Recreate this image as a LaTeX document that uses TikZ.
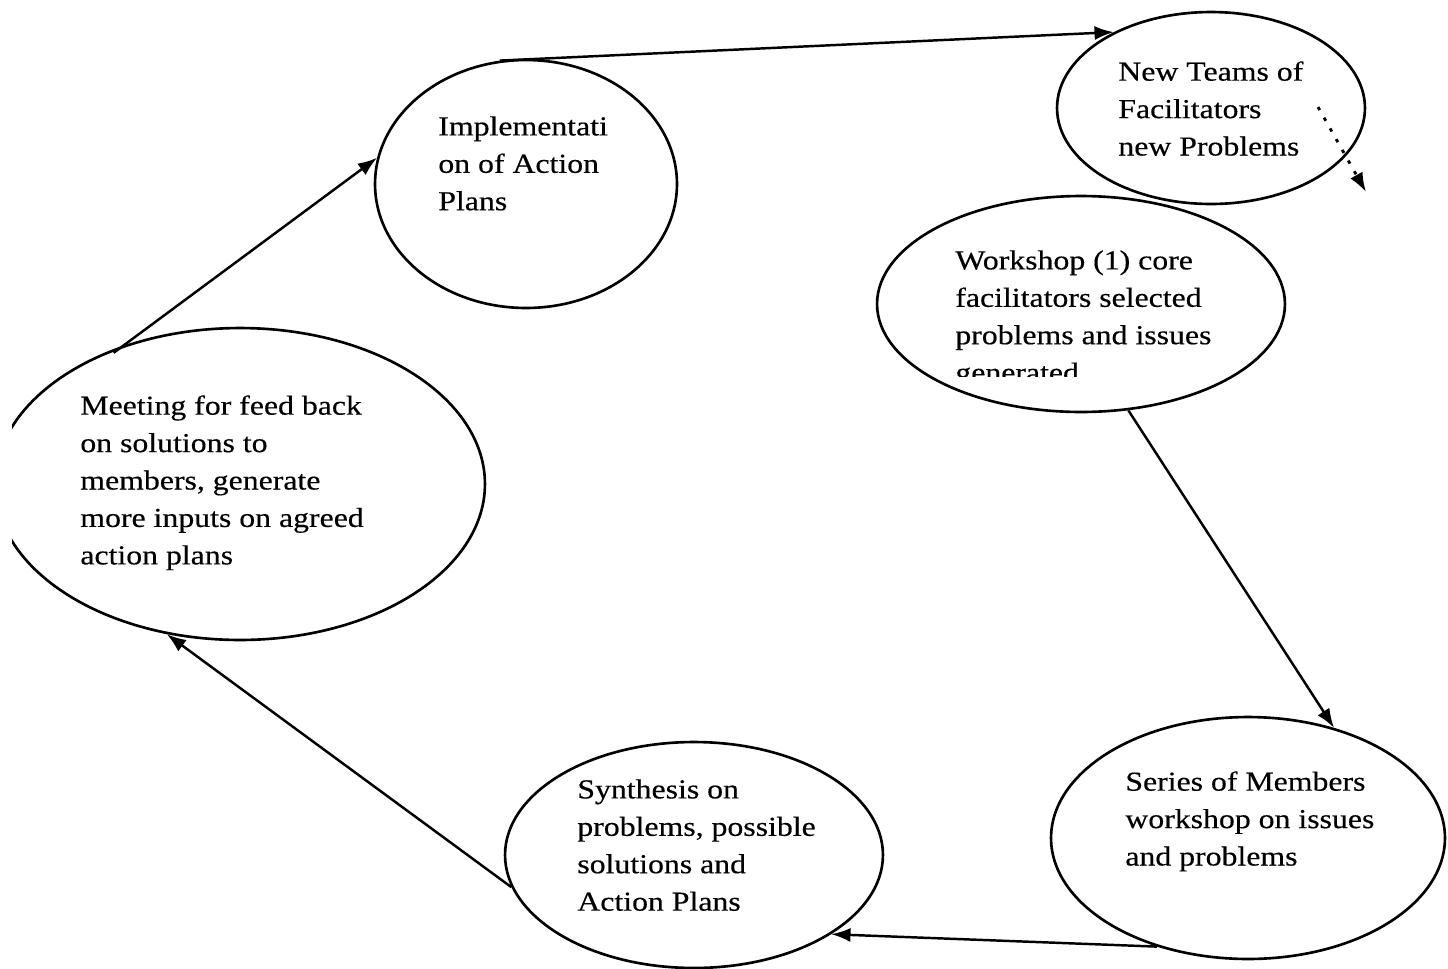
\documentclass[tikz,border=0pt]{standalone}
\usepackage{fontspec}
\setmainfont{Liberation Serif}[FakeStretch=1.16,FakeBold=0.4]
\usetikzlibrary{shapes.geometric,arrows.meta}
\tikzset{
  ell/.style={ellipse, draw, line width=1.5pt, inner sep=0pt},
  txt/.style={anchor=north west, align=left, inner sep=0pt, font=\fontsize{15.6pt}{21.3pt}\selectfont},
  flow/.style={line width=1.4pt, -{Latex[length=11pt,width=8pt]}},
  dotflow/.style={line width=1.6pt, dash pattern=on 2pt off 5pt, -{Latex[length=11pt,width=8pt]}}
}
\begin{document}
\begin{tikzpicture}[x=0.02cm,y=-0.02cm]
\useasboundingbox (0,0) rectangle (1448,968);
% ellipses
\node[ell, minimum width=6.04cm, minimum height=4.96cm] (impl) at (526,184) {};
\node[ell, minimum width=6.16cm, minimum height=3.84cm] (newt) at (1211,108) {};
\node[ell, minimum width=8.16cm, minimum height=4.32cm] (work) at (1081,304) {};
\begin{scope}
  \clip (12,250) rectangle (700,700);
  \node[ell, minimum width=9.8cm, minimum height=6.24cm] (meet) at (240,484) {};
\end{scope}
\node[ell, minimum width=7.56cm, minimum height=4.52cm] (synth) at (694,855) {};
\node[ell, minimum width=7.88cm, minimum height=4.84cm] (series) at (1248,838) {};
% texts
\node[txt] (impl-t) at (438,116) {Implementati\\on of Action\\Plans};
\node[txt] (newt-t) at (1118,61) {New Teams of\\Facilitators\\new Problems};
\begin{scope}
  \clip (900,200) rectangle (1260,376);
  \node[txt] (work-t) at (955,250) {Workshop (1) core\\facilitators selected\\problems and issues\\generated};
\end{scope}
\node[txt] (meet-t) at (80,395) {Meeting for feed back\\on solutions to\\members, generate\\more inputs on agreed\\action plans};
\node[txt] (synth-t) at (577,779) {Synthesis on\\problems, possible\\solutions and\\Action Plans};
\node[txt] (series-t) at (1125,771) {Series of Members\\workshop on issues\\and problems};
% connectors
\draw[flow] (impl.102) -- (newt.142);
\coordinate (d1) at (1318,107);
\coordinate (d2) at (1366,192);
\draw[dotflow] (d1) -- (d2);
\draw[flow] (work.294) -- (series.52);
\draw[flow] (series.230) -- (synth.330);
\draw[flow] (synth.190) -- (meet.244);
\draw[flow, shorten <=-0.25cm] (meet.130) -- (impl.170);
\end{tikzpicture}
\end{document}
